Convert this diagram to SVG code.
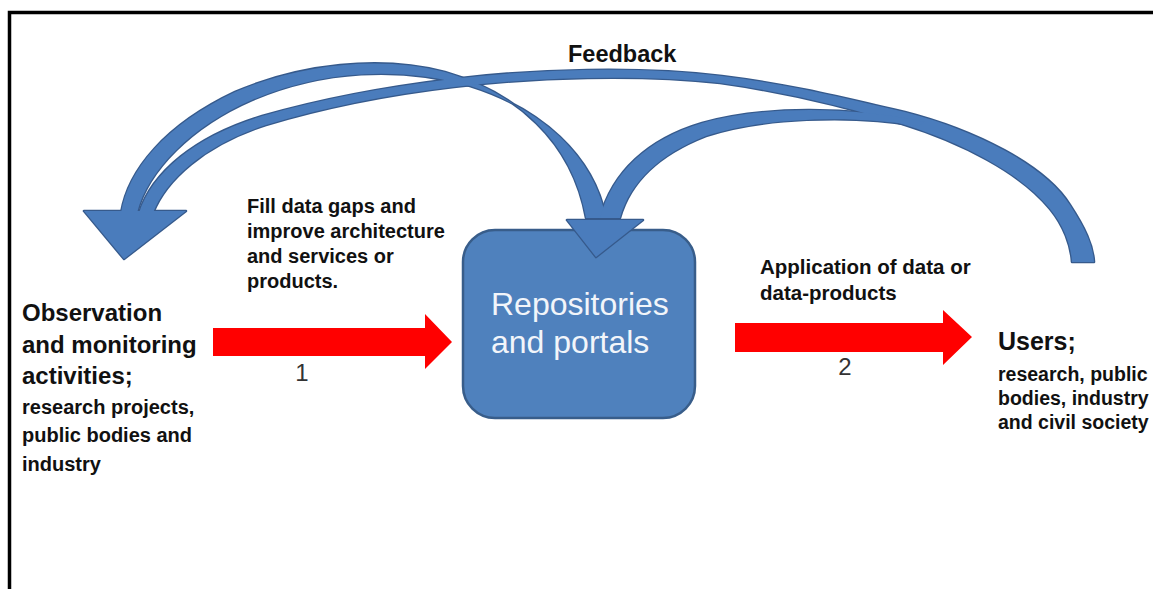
<svg xmlns="http://www.w3.org/2000/svg" xmlns:xlink="http://www.w3.org/1999/xlink" width="1153" height="589" viewBox="0 0 1153 589">
<style>
  .frame { fill: none; stroke: #000; stroke-width: 3.5; }
  .box { fill: #4F81BD; stroke: #385D8A; stroke-width: 2.5; }
  .edge use { fill: #365A8C; stroke: #365A8C; stroke-width: 2.6; stroke-linejoin: round; }
  .body use { fill: #4A7CBC; stroke: none; }
  .red { fill: #FF0000; }
  .t { font-family: "Liberation Sans", Arial, sans-serif; fill: #111; }
  .b { font-weight: bold; }
  .boxtxt { font-family: "Liberation Sans", Arial, sans-serif; font-size: 32px; fill: #F2F5FA; }
  .num { font-family: "Liberation Sans", Arial, sans-serif; font-size: 24px; fill: #333; text-anchor: middle; }
</style>
<defs>
  <path id="band1" d="M121,213 C128,170 165,125 235,92 C300,64 380,55 445,72 C515,92 572,140 586,218 L606,218 C594,155 540,108 470,86 C400,66 322,70 252,100 C192,126 148,170 137,213 Z"/>
  <path id="band2" d="M139,213 C152,172 196,136 262,116 C325,98 385,87 452,79 C535,69 640,66 722,76 C795,85 852,100 905,112 C975,130 1045,165 1070,205 C1085,228 1093,245 1094,262 L1072,262 C1071,246 1064,226 1050,209 C1020,172 960,142 902,124 C850,108 792,93 720,83 C640,74 535,77 454,87 C386,95 326,107 266,125 C204,145 166,180 153,213 Z"/>
  <path id="band3" d="M925,122 C850,106 762,106 702,123 C648,139 612,172 600,218 L620,218 C630,182 660,154 706,136 C760,118 850,114 918,126 Z"/>
  <path id="headL" d="M84,211 L186,211 L124,259 Z"/>
  <path id="headR" d="M567,220 L643,220 L596,257 Z"/>
</defs>
<rect width="1153" height="589" fill="#fff"/>
<rect class="frame" x="9.5" y="12.5" width="1160" height="600"/>

<g id="node-repositories">
  <rect class="box" x="463" y="230" width="232" height="188" rx="32" ry="32"/>
  <text class="boxtxt" x="491" y="315">Repositories</text>
  <text class="boxtxt" x="491" y="353">and portals</text>
</g>

<g id="node-observation">
  <text class="t b" font-size="24" x="22" y="321">Observation</text>
  <text class="t b" font-size="24" x="22" y="353">and monitoring</text>
  <text class="t b" font-size="24" x="22" y="384">activities;</text>
  <text class="t b" font-size="20" x="22" y="414">research projects,</text>
  <text class="t b" font-size="20" x="22" y="442">public bodies and</text>
  <text class="t b" font-size="20" x="22" y="471">industry</text>
</g>

<g id="node-users">
  <text class="t b" font-size="25" x="998" y="350">Users;</text>
  <text class="t b" font-size="19.5" x="998" y="381">research, public</text>
  <text class="t b" font-size="19.5" x="998" y="405">bodies, industry</text>
  <text class="t b" font-size="19.5" x="998" y="429">and civil society</text>
</g>

<g id="connectors">
  <g id="feedback-arrows">
    <g class="edge">
      <use xlink:href="#band1"/><use xlink:href="#band2"/><use xlink:href="#band3"/>
      <use xlink:href="#headL"/><use xlink:href="#headR"/>
    </g>
    <g class="body">
      <use xlink:href="#band1"/><use xlink:href="#band2"/><use xlink:href="#band3"/>
      <use xlink:href="#headL"/><use xlink:href="#headR"/>
    </g>
  </g>
  <path id="arrow-1" class="red" d="M213,328 L425,328 L425,314 L452,342 L425,369 L425,356 L213,356 Z"/>
  <path id="arrow-2" class="red" d="M735,323 L943,323 L943,310 L972,337 L943,365 L943,352 L735,352 Z"/>
  <g id="labels">
    <text class="t b" font-size="23.5" x="568" y="62">Feedback</text>
    <text class="t b" font-size="20" x="247" y="213">Fill data gaps and</text>
    <text class="t b" font-size="20" x="247" y="238">improve architecture</text>
    <text class="t b" font-size="20" x="247" y="263">and services or</text>
    <text class="t b" font-size="20" x="247" y="288">products.</text>
    <text class="t b" font-size="20.5" x="760" y="274">Application of data or</text>
    <text class="t b" font-size="20.5" x="760" y="300">data-products</text>
    <text class="num" x="302" y="381">1</text>
    <text class="num" x="845" y="375">2</text>
  </g>
</g>
</svg>
